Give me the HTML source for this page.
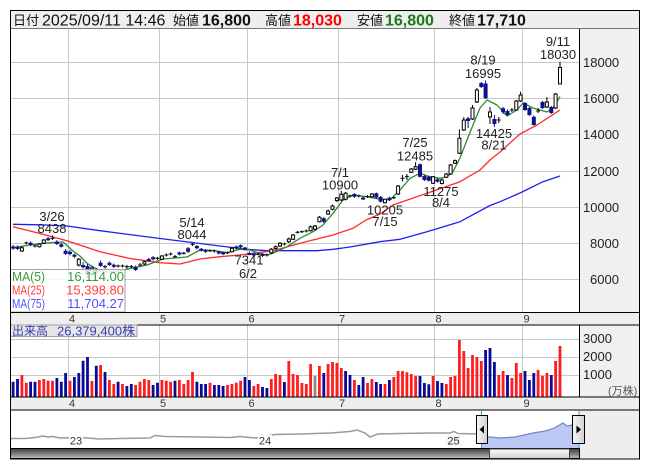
<!DOCTYPE html>
<html><head><meta charset="utf-8"><style>
html,body{margin:0;padding:0;background:#fff;}
svg{display:block;}
text{font-family:"Liberation Sans","Noto Sans CJK JP",sans-serif;}
</style></head><body>
<svg width="653" height="470" viewBox="0 0 653 470" xmlns="http://www.w3.org/2000/svg">
<defs>
<linearGradient id="sb" x1="0" y1="0" x2="0" y2="1"><stop offset="0" stop-color="#3c3c3c"/><stop offset="0.55" stop-color="#808080"/><stop offset="1" stop-color="#c4c4c4"/></linearGradient>
<linearGradient id="th" x1="0" y1="0" x2="0" y2="1"><stop offset="0" stop-color="#ffffff"/><stop offset="1" stop-color="#cfcfcf"/></linearGradient>
<linearGradient id="hd" x1="0" y1="0" x2="1" y2="0"><stop offset="0" stop-color="#f6f6f6"/><stop offset="1" stop-color="#d2d2d2"/></linearGradient>
</defs>
<rect width="653" height="470" fill="#fff"/>

<!-- header -->
<rect x="10.5" y="10.5" width="629" height="18.5" fill="#eeeeee" stroke="#000"/>
<text x="13" y="25" font-size="13" fill="#111">日付</text>
<text x="42" y="25.5" font-size="16" fill="#111">2025/09/11 14:46</text>
<text x="173" y="25" font-size="13" fill="#111">始値</text>
<text x="202" y="25.5" font-size="16" font-weight="bold" fill="#111">16,800</text>
<text x="265" y="25" font-size="13" fill="#111">高値</text>
<text x="293" y="25.5" font-size="16" font-weight="bold" fill="#ff0000">18,030</text>
<text x="357" y="25" font-size="13" fill="#111">安値</text>
<text x="385" y="25.5" font-size="16" font-weight="bold" fill="#1a7a1a">16,800</text>
<text x="449" y="25" font-size="13" fill="#111">終値</text>
<text x="477" y="25.5" font-size="16" font-weight="bold" fill="#111">17,710</text>

<!-- panels backgrounds -->
<rect x="10.5" y="29" width="569" height="283.5" fill="#fff"/>
<rect x="579.5" y="29" width="60" height="283.5" fill="#f0f0f0"/>
<rect x="10.5" y="325" width="569" height="72" fill="#fff"/>
<rect x="579.5" y="325" width="60" height="72" fill="#f0f0f0"/>
<rect x="10.5" y="410" width="569" height="38" fill="#fff"/>
<rect x="579.5" y="410" width="60" height="49" fill="#eeeeee"/>

<!-- grid main -->
<g stroke="#c8c8c8" stroke-width="1" fill="none">
<path d="M10.5 62.5H579M10.5 98.5H579M10.5 134.5H579M10.5 171.5H579M10.5 207.5H579M10.5 243.5H579M10.5 279.5H579"/>
<path d="M68.5 29V312M159.5 29V312M247.5 29V312M338.5 29V312M434.5 29V312M522.5 29V312"/>
<path d="M10.5 339.5H579M10.5 357.5H579M10.5 375.5H579"/>
<path d="M68.5 325V397M159.5 325V397M247.5 325V397M338.5 325V397M434.5 325V397M522.5 325V397"/>
</g>

<!-- price axis labels -->
<g font-size="13" fill="#222">
<text x="583" y="67">18000</text>
<text x="583" y="103">16000</text>
<text x="583" y="139">14000</text>
<text x="583" y="176">12000</text>
<text x="583" y="212">10000</text>
<text x="590" y="248">8000</text>
<text x="590" y="284">6000</text>
</g>

<!-- MA lines -->
<g fill="none" stroke-width="1.3" stroke-linejoin="round">
<polyline stroke="#2020f0" points="13,224.3 40,224.8 67,226 100,230.7 133,235 160,238.5 180,241 200,243.5 220,246 247,249.3 267,250.7 317,250.7 333,249.3 350,247 380,241.7 400,239.3 427,231.7 460,221.7 490,205.5 500,201.7 520,193 543,181.7 560,176"/>
<polyline stroke="#ff2a2a" points="13,226.7 40,233.5 67,240.7 100,251.7 130,258.5 160,262.7 180,264 200,259 220,256.7 240,255 273,250.7 300,243.3 333,235 353,228.3 366,220 380,214 393,205 427,193.3 460,181.7 480,170 490,160 500,152 520,134 537,125 560,110"/>
<polyline stroke="#2e8b2e" points="13,247.7 30,245 50,242.7 63,242 73,251 80,256 87,263.3 95,268 100,270.7 108,272 118,271 133,268 147,265 163,259 175,258 187,257 200,250 213,250.5 227,252.7 240,249.3 250,250 260,253.5 267,255 273,253.3 287,246.7 300,238.3 313,231.7 323,225 333,213.3 343,200 353,195 367,196.7 380,199.3 390,200 400,190 410,178.3 420,173.3 430,176.7 440,178.3 447,176.7 453,171.7 460,158 467,140 473,125 480,108 487,100 497,105 507,116 517,110 523,103 533,108 547,112 553,108 560,96.5"/>
</g>

<!-- candles: blue -->
<path fill="none" stroke="#10108a" stroke-width="1" d="M13.1 245V250M17.5 245.5V250M30.6 241.5V246M48.1 237V241M56.9 240V245M61.3 243V247.5M65.6 249V255M70 250V255.5M74.4 253.5V258M83.1 262V268.5M87.5 264V278M96.3 268V274M100.6 260.5V267M109.4 261.5V266M113.8 263.5V268M135.6 265.5V271M148.8 258V262M153.1 256V260.5M179.4 251.5V255.5M188.1 247V253M196.9 245V249.5M201.3 248V251.5M205.6 249V253M218.8 250.5V254.5M223.1 251.5V255M236.3 245.5V249.5M240.6 244.5V248.5M245 247V250.5M249.4 251.5V255.2M253.8 252.5V256M262.5 253V257M323.8 217V223M354.4 193V198M363.1 196.5V200M376.3 192.5V199M380.6 196V202.5M389.4 196.5V201M420 163.5V177.5M424.4 175V181M428.8 176V181.5M437.5 178.5V182.5M468.1 117V128M481.3 82V88M485.6 80.5V99M494.4 115V127M503.1 107V114M507.5 109.5V116M525 102V111M529.4 107V116M533.8 115.5V125.5M542.5 101V109M551.3 106V114"/>
<path fill="#10108a" d="M11.1 246.5h4v2h-4zM15.5 246.7h4v2.3h-4zM28.6 242.7h4v2.3h-4zM46.1 238.2h4v2h-4zM54.9 241.7h4v2.3h-4zM59.3 244.3h4v2.4h-4zM63.6 250.7h4v3.3h-4zM68 251.7h4v2.3h-4zM72.4 254.8h4v2h-4zM81.1 265h4v2.3h-4zM85.5 266h4v8h-4zM94.3 270h4v2.5h-4zM98.6 262.7h4v3.3h-4zM107.4 262.7h4v2.3h-4zM111.8 264.8h4v2h-4zM133.6 266.7h4v3.3h-4zM146.8 259h4v2h-4zM151.1 257.3h4v2h-4zM177.4 252.5h4v2h-4zM186.1 248.3h4v3.4h-4zM194.9 246h4v2.3h-4zM199.3 248.7h4v2h-4zM203.6 249.8h4v2h-4zM216.8 251.5h4v2h-4zM221.1 252.3h4v2h-4zM234.3 246.5h4v2h-4zM238.6 245.3h4v2h-4zM243 247.5h4v2h-4zM247.4 253h4v2h-4zM251.8 253.5h4v2h-4zM260.5 254h4v2h-4zM321.8 218.3h4v3.4h-4zM352.4 194h4v2.7h-4zM361.1 197.5h4v2h-4zM374.3 193.3h4v4.2h-4zM378.6 197h4v4.7h-4zM387.4 197.7h4v2.3h-4zM418 164.3h4v12.4h-4zM422.4 176h4v4h-4zM426.8 176.7h4v4h-4zM435.5 179.3h4v2.4h-4zM466.1 118.3h4v2.7h-4zM479.3 83h4v4h-4zM483.6 83.5h4v14.8h-4zM492.4 119h4v5h-4zM501.1 108.3h4v4h-4zM505.5 111h4v4h-4zM523 103h4v7h-4zM527.4 108h4v7h-4zM531.8 116.7h4v8.3h-4zM540.5 102h4v6h-4zM549.3 107h4v6h-4z"/>

<!-- candles: white -->
<path fill="none" stroke="#000" stroke-width="1" d="M21.9 246V252M39.4 243V247.5M43.8 239V244M78.8 258V266.5M91.9 266V276M144.4 260.5V265M161.9 255V260M231.9 247V252.5M271.3 248V254M275.6 245.5V249.5M280 242V247M288.8 237.5V243M293.1 234V240M310.6 225.5V231.5M315 225V230.5M319.4 216V222.5M328.1 209.5V215M332.5 204.5V210.5M336.9 197V202M341.3 190.8V201M345.6 192V200.5M371.9 193V198M385 198.5V203.4M398.1 185V195M411.3 168V173M415.6 162.1V170M433.1 176V184M441.9 178.5V184.5M446.3 173V178M450.6 164V175M455 159.5V164M459.4 129.3V154M463.8 117V131M472.5 105V120M476.9 88V103M490 107V124M516.3 100V111M520.6 91.7V102M546.9 97V108M555.6 93V109M560 61.8V84"/>
<path fill="#fff" stroke="#000" stroke-width="1" d="M20.4 247.7h3v3.3h-3zM37.9 244h3v2.7h-3zM42.3 240h3v3.3h-3zM77.3 259.3h3v5.7h-3zM90.4 268h3v6h-3zM142.9 261.7h3v2.3h-3zM160.4 256h3v3.3h-3zM230.4 248.3h3v3.4h-3zM269.8 249.3h3v3.4h-3zM274.1 246.7h3v1.8h-3zM278.5 243.3h3v2.7h-3zM287.3 239h3v2.7h-3zM291.6 235h3v4.3h-3zM309.1 226.7h3v4h-3zM313.5 226h3v3.3h-3zM317.9 217.3h3v4.4h-3zM326.6 211h3v3h-3zM331 206h3v3.3h-3zM335.4 198h3v2.5h-3zM339.8 194.3h3v5.7h-3zM344.1 193.3h3v6h-3zM370.4 194h3v2.7h-3zM383.5 199.3h3v3.4h-3zM396.6 186h3v8h-3zM409.8 169h3v3.3h-3zM414.1 166.7h3v2.6h-3zM431.6 176.7h3v6.6h-3zM440.4 180h3v3.5h-3zM444.8 174h3v3.3h-3zM449.1 165h3v9h-3zM453.5 160.7h3v2.6h-3zM457.9 138.3h3v15h-3zM462.3 120h3v10h-3zM471 108h3v11h-3zM475.4 90h3v12h-3zM488.5 112h3v5h-3zM514.8 101h3v9h-3zM519.1 95h3v6h-3zM545.4 102h3v5h-3zM554.1 94h3v14h-3zM558.5 67.5h3v16.5h-3z"/>

<!-- candles: doji -->
<path fill="none" stroke="#111" stroke-width="1.1" d="M26.3 241.5V244.5M24.3 243h4M35 244.5V247.5M33 246h4M52.5 235.4V240M50.5 238.3h4M105 265V268.5M103 266.7h4M118.1 264.5V267.5M116.1 266h4M122.5 264.5V267.5M120.5 266h4M126.9 265V268.5M124.9 266.7h4M131.3 265V268M129.3 266.7h4M140 263V266.5M138 265h4M157.5 257V260M155.5 258.3h4M166.3 253.5V256.5M164.3 255h4M170.6 252.5V255.5M168.6 254h4M175 255V258M173 256.7h4M183.8 252V254.5M181.8 253.3h4M192.5 242.5V246M190.5 244.3h4M210 249.5V252M208 250.7h4M214.4 249.5V252.5M212.4 251h4M227.5 251.5V254M225.5 252.7h4M258.1 253V255.5M256.1 254.3h4M266.9 253.5V256.5M264.9 255h4M284.4 242.5V245.5M282.4 244h4M297.5 231V233.5M295.5 232.3h4M301.9 230.5V233M299.9 231.7h4M306.3 229.5V232.5M304.3 231h4M350 194.5V197.5M348 196h4M358.8 194.5V197.5M356.8 196h4M367.5 195V198M365.5 196.5h4M393.8 196.5V199M391.8 197.7h4M402.5 175V181.5M400.5 178.3h4M406.9 174V180M404.9 176.7h4M498.8 117V123M496.8 120h4M511.9 108V112M509.9 110h4M538.1 108V113M536.1 111h4"/>

<!-- annotations -->
<g font-size="13" fill="#222" text-anchor="middle">
<text x="52" y="221">3/26</text><text x="52" y="233">8438</text>
<text x="192" y="227">5/14</text><text x="192" y="239">8044</text>
<text x="249" y="264.5">7341</text><text x="248" y="278">6/2</text>
<text x="340" y="177">7/1</text><text x="340" y="189.5">10900</text>
<text x="385" y="214.5">10205</text><text x="385" y="226">7/15</text>
<text x="415" y="147">7/25</text><text x="415" y="160.5">12485</text>
<text x="441" y="196">11275</text><text x="441" y="207">8/4</text>
<text x="483" y="64.5">8/19</text><text x="483" y="78">16995</text>
<text x="494" y="138">14425</text><text x="494" y="149.5">8/21</text>
<text x="558" y="46">9/11</text><text x="558" y="59">18030</text>
</g>

<!-- MA legend -->
<rect x="10.5" y="269.5" width="114.5" height="42.5" fill="#fff" fill-opacity="0.82" stroke="#a0a0a0"/>
<g font-size="13">
<text x="12" y="281" fill="#3c9a3c" textLength="33" lengthAdjust="spacingAndGlyphs">MA(5)</text>
<text x="124" y="281" fill="#3c9a3c" text-anchor="end">16,114.00</text>
<text x="12" y="294.5" fill="#ff4040" textLength="33" lengthAdjust="spacingAndGlyphs">MA(25)</text>
<text x="124" y="294.5" fill="#ff4040" text-anchor="end">15,398.80</text>
<text x="12" y="308" fill="#5050ff" textLength="33" lengthAdjust="spacingAndGlyphs">MA(75)</text>
<text x="124" y="308" fill="#5050ff" text-anchor="end">11,704.27</text>
</g>

<!-- date band 1 -->
<rect x="10.5" y="312.5" width="629" height="12.5" fill="#eeeeee" stroke="#000"/>
<g font-size="11" fill="#433" text-anchor="middle">
<text x="72" y="322.5">4</text><text x="163" y="322.5">5</text><text x="251.5" y="322.5">6</text><text x="342" y="322.5">7</text><text x="438.5" y="322.5">8</text><text x="526.5" y="322.5">9</text>
</g>

<!-- volume bars -->
<path fill="#ff1e1e" d="M20.5 375h2.8V397h-2.8zM24.9 382.7h2.8V397h-2.8zM38 380h2.8V397h-2.8zM42.4 379h2.8V397h-2.8zM46.7 380.7h2.8V397h-2.8zM51.1 380.7h2.8V397h-2.8zM68.6 380.7h2.8V397h-2.8zM90.5 381h2.8V397h-2.8zM99.2 365h2.8V397h-2.8zM108 380h2.8V397h-2.8zM112.4 384h2.8V397h-2.8zM121.1 384h2.8V397h-2.8zM134.2 385h2.8V397h-2.8zM138.6 381.7h2.8V397h-2.8zM143 379h2.8V397h-2.8zM147.4 380h2.8V397h-2.8zM160.5 380h2.8V397h-2.8zM164.9 380.7h2.8V397h-2.8zM169.2 381.7h2.8V397h-2.8zM178 380h2.8V397h-2.8zM182.4 384h2.8V397h-2.8zM186.7 380h2.8V397h-2.8zM191.1 372h2.8V397h-2.8zM208.6 382.7h2.8V397h-2.8zM226.1 385h2.8V397h-2.8zM230.5 384h2.8V397h-2.8zM234.9 382.7h2.8V397h-2.8zM239.2 380.7h2.8V397h-2.8zM252.4 386h2.8V397h-2.8zM256.7 384h2.8V397h-2.8zM269.9 379h2.8V397h-2.8zM274.2 374h2.8V397h-2.8zM278.6 375h2.8V397h-2.8zM287.4 361h2.8V397h-2.8zM291.7 374h2.8V397h-2.8zM296.1 375h2.8V397h-2.8zM300.5 383h2.8V397h-2.8zM304.9 384h2.8V397h-2.8zM309.2 364h2.8V397h-2.8zM318 366h2.8V397h-2.8zM326.7 364h2.8V397h-2.8zM331.1 362h2.8V397h-2.8zM335.5 363h2.8V397h-2.8zM339.9 368h2.8V397h-2.8zM353 380h2.8V397h-2.8zM366.1 383h2.8V397h-2.8zM370.5 379h2.8V397h-2.8zM383.6 384h2.8V397h-2.8zM392.4 377h2.8V397h-2.8zM396.7 371h2.8V397h-2.8zM401.1 371h2.8V397h-2.8zM405.5 372.3h2.8V397h-2.8zM409.9 374h2.8V397h-2.8zM414.2 376h2.8V397h-2.8zM431.7 376h2.8V397h-2.8zM444.9 384h2.8V397h-2.8zM449.2 377h2.8V397h-2.8zM453.6 376h2.8V397h-2.8zM458 340h2.8V397h-2.8zM462.4 351h2.8V397h-2.8zM466.7 368h2.8V397h-2.8zM471.1 355h2.8V397h-2.8zM475.5 357h2.8V397h-2.8zM479.9 361h2.8V397h-2.8zM497.4 375h2.8V397h-2.8zM501.7 371h2.8V397h-2.8zM510.5 378h2.8V397h-2.8zM514.9 363h2.8V397h-2.8zM519.2 373h2.8V397h-2.8zM536.7 370h2.8V397h-2.8zM541.1 376h2.8V397h-2.8zM545.5 373h2.8V397h-2.8zM554.2 361h2.8V397h-2.8zM558.6 346h2.8V397h-2.8z"/>
<path fill="#0a0a96" d="M11.7 381.7h2.8V397h-2.8zM16.1 379h2.8V397h-2.8zM29.2 381.7h2.8V397h-2.8zM33.6 381.7h2.8V397h-2.8zM55.5 378h2.8V397h-2.8zM59.9 381.7h2.8V397h-2.8zM64.2 373h2.8V397h-2.8zM73 377h2.8V397h-2.8zM77.4 373h2.8V397h-2.8zM81.7 360.7h2.8V397h-2.8zM86.1 357h2.8V397h-2.8zM94.9 365.7h2.8V397h-2.8zM103.6 372h2.8V397h-2.8zM116.7 381.7h2.8V397h-2.8zM125.5 386h2.8V397h-2.8zM129.9 384h2.8V397h-2.8zM151.7 385h2.8V397h-2.8zM156.1 382.7h2.8V397h-2.8zM173.6 380.7h2.8V397h-2.8zM195.5 381.7h2.8V397h-2.8zM199.9 384h2.8V397h-2.8zM204.2 384h2.8V397h-2.8zM213 385h2.8V397h-2.8zM217.4 385h2.8V397h-2.8zM221.7 386h2.8V397h-2.8zM243.6 377h2.8V397h-2.8zM248 380h2.8V397h-2.8zM261.1 387h2.8V397h-2.8zM265.5 388h2.8V397h-2.8zM283 382h2.8V397h-2.8zM322.4 373h2.8V397h-2.8zM344.2 371h2.8V397h-2.8zM348.6 375h2.8V397h-2.8zM357.4 385h2.8V397h-2.8zM361.7 377h2.8V397h-2.8zM374.9 382h2.8V397h-2.8zM379.2 384h2.8V397h-2.8zM388 380h2.8V397h-2.8zM418.6 376h2.8V397h-2.8zM423 383h2.8V397h-2.8zM427.4 384.3h2.8V397h-2.8zM436.1 381h2.8V397h-2.8zM440.5 383h2.8V397h-2.8zM484.2 350h2.8V397h-2.8zM488.6 348h2.8V397h-2.8zM493 362h2.8V397h-2.8zM506.1 375h2.8V397h-2.8zM523.6 371h2.8V397h-2.8zM528 380h2.8V397h-2.8zM532.4 373h2.8V397h-2.8zM549.9 375h2.8V397h-2.8z"/>
<path fill="#8a8a8a" d="M313.6 376h2.8V397h-2.8z"/>

<!-- volume legend & axis -->
<rect x="10.5" y="325" width="126.5" height="11.5" fill="#e6e6e6" stroke="#a0a0a0"/>
<text x="12" y="335" font-size="12" fill="#3a3ab4">出来高</text>
<text x="57" y="335.5" font-size="13" fill="#3a3ab4">26,379,400株</text>
<g font-size="13" fill="#222">
<text x="583" y="343">3000</text>
<text x="583" y="361">2000</text>
<text x="583" y="379">1000</text>
</g>
<text x="608" y="394.5" font-size="11" fill="#555">(万株)</text>

<!-- date band 2 -->
<rect x="10.5" y="397" width="629" height="13" fill="#eeeeee" stroke="#000"/>
<g font-size="11" fill="#433" text-anchor="middle">
<text x="72" y="407">4</text><text x="163" y="407">5</text><text x="251.5" y="407">6</text><text x="342" y="407">7</text><text x="438.5" y="407">8</text><text x="526.5" y="407">9</text>
</g>

<!-- navigator -->
<polyline fill="none" stroke="#9a9a9a" stroke-width="1.5" points="10,438.5 25,438.5 35,437.5 43,436 48,437 53,436.5 60,438 80,437.5 100,439 120,438.5 150,438 155,435.5 165,436.5 200,437 230,437.5 240,436.5 255,438 262,437 275,434.5 300,434 330,433 350,431.5 357,430 365,433 370,437 378,434 400,433.5 430,433 450,433 454,431.5 458,433.5 481,434"/>
<polygon fill="#bcc8f4" points="481.5,448 481.5,436 489,437 500,438 515,437 533,433 545,431 552,429 557,426.5 563,423 567,426 572,425 579,424 579,448"/>
<polyline fill="none" stroke="#7383d2" stroke-width="1.2" points="481.5,436 489,437 500,438 515,437 533,433 545,431 552,429 557,426.5 563,423 567,426 572,425 579,424"/>
<g font-size="11" fill="#333" text-anchor="middle">
<rect x="69" y="435" width="14" height="11" fill="#fff"/><text x="76" y="444.5">23</text>
<rect x="258" y="435" width="14" height="11" fill="#fff"/><text x="265" y="444.5">24</text>
<rect x="446" y="435" width="15" height="11" fill="#f4f4f4"/><text x="453.5" y="444.5">25</text>
</g>
<path d="M481.5 410V448M579 410V448" stroke="#3a9ad0" stroke-width="1"/>

<!-- scrollbar -->
<rect x="10.5" y="448.5" width="569" height="10" fill="url(#sb)" stroke="#000"/>
<rect x="489.5" y="449" width="80" height="9.5" fill="url(#th)" stroke="#444"/>

<!-- handles -->
<rect x="476.5" y="415.5" width="11" height="28" fill="url(#hd)" stroke="#000"/>
<polygon points="484,425.5 484,433.5 479.5,429.5" fill="#000"/>
<rect x="572.5" y="415.5" width="12" height="28" fill="url(#hd)" stroke="#000"/>
<polygon points="576.5,425.5 576.5,433.5 581,429.5" fill="#000"/>

<!-- frame lines -->
<path d="M579.5 29V312.5M579.5 325V397" stroke="#000" stroke-width="1"/>
<rect x="10.5" y="10.5" width="629" height="448.5" fill="none" stroke="#000"/>
</svg>
</body></html>
